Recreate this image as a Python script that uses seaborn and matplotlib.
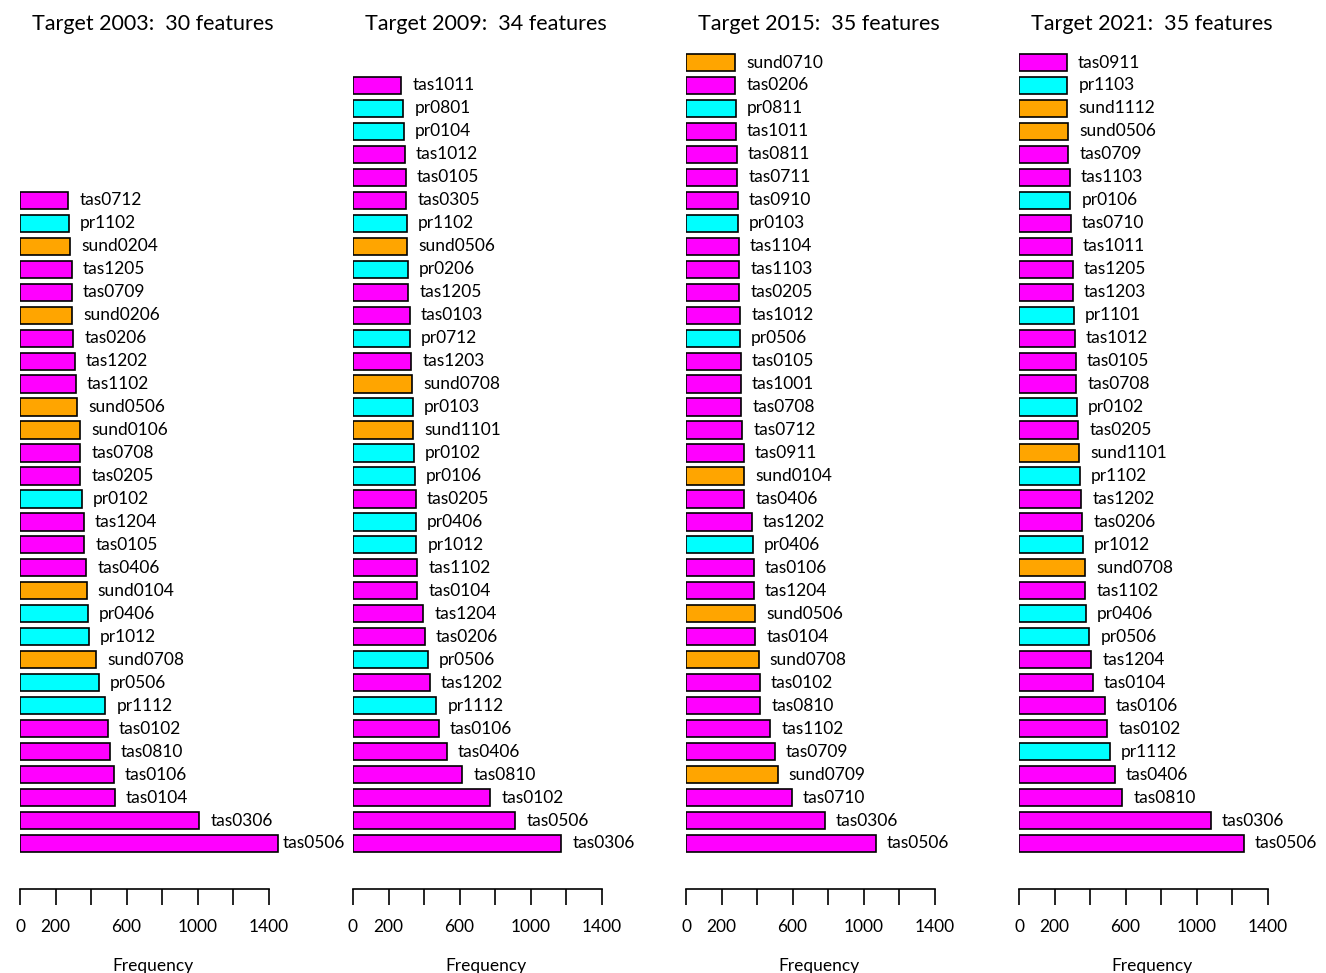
import numpy as np
import pandas as pd
import matplotlib
matplotlib.use('Agg')
import matplotlib.pyplot as plt
import seaborn as sns

# feature names, top to bottom as drawn, with their selection frequency
names_2003 = ['tas0712', 'pr1102', 'sund0204', 'tas1205', 'tas0709', 'sund0206', 'tas0206',
              'tas1202', 'tas1102', 'sund0506', 'sund0106', 'tas0708', 'tas0205', 'pr0102',
              'tas1204', 'tas0105', 'tas0406', 'sund0104', 'pr0406', 'pr1012', 'sund0708',
              'pr0506', 'pr1112', 'tas0102', 'tas0810', 'tas0106', 'tas0104', 'tas0306', 'tas0506']
freq_2003 = [272, 274, 283, 291, 291, 295, 300, 308, 313, 321, 340, 340, 340, 349,
             358, 362, 374, 375, 381, 387, 428, 443, 480, 494, 505, 529, 535, 1010, 1451]

names_2009 = ['tas1011', 'pr0801', 'pr0104', 'tas1012', 'tas0105', 'tas0305', 'pr1102',
              'sund0506', 'pr0206', 'tas1205', 'tas0103', 'pr0712', 'tas1203', 'sund0708',
              'pr0103', 'sund1101', 'pr0102', 'pr0106', 'tas0205', 'pr0406', 'pr1012',
              'tas1102', 'tas0104', 'tas1204', 'tas0206', 'pr0506', 'tas1202', 'pr1112',
              'tas0106', 'tas0406', 'tas0810', 'tas0102', 'tas0506', 'tas0306']
freq_2009 = [272, 283, 287, 293, 298, 300, 302, 306, 308, 311, 319, 321, 329, 332,
             336, 340, 342, 348, 352, 355, 357, 361, 361, 395, 405, 420, 433, 469,
             482, 529, 615, 773, 914, 1172]

names_2015 = ['sund0710', 'tas0206', 'pr0811', 'tas1011', 'tas0811', 'tas0711', 'tas0910',
              'pr0103', 'tas1104', 'tas1103', 'tas0205', 'tas1012', 'pr0506', 'tas0105',
              'tas1001', 'tas0708', 'tas0712', 'tas0911', 'sund0104', 'tas0406', 'tas1202',
              'pr0406', 'tas0106', 'tas1204', 'sund0506', 'tas0104', 'sund0708', 'tas0102',
              'tas0810', 'tas1102', 'tas0709', 'sund0709', 'tas0710', 'tas0306', 'tas0506']
freq_2015 = [275, 277, 279, 281, 286, 288, 290, 290, 296, 301, 301, 305, 305, 307,
             309, 311, 318, 325, 327, 329, 369, 378, 380, 380, 390, 391, 410, 414,
             419, 475, 501, 516, 594, 783, 1070]

names_2021 = ['tas0911', 'pr1103', 'sund1112', 'sund0506', 'tas0709', 'tas1103', 'pr0106',
              'tas0710', 'tas1011', 'tas1205', 'tas1203', 'pr1101', 'tas1012', 'tas0105',
              'tas0708', 'pr0102', 'tas0205', 'sund1101', 'pr1102', 'tas1202', 'tas0206',
              'pr1012', 'sund0708', 'tas1102', 'pr0406', 'pr0506', 'tas1204', 'tas0104',
              'tas0106', 'tas0102', 'pr1112', 'tas0406', 'tas0810', 'tas0306', 'tas0506']
freq_2021 = [270, 272, 272, 276, 278, 285, 289, 293, 298, 304, 304, 308, 313, 319,
             323, 325, 334, 338, 342, 351, 357, 358, 373, 373, 375, 396, 407, 415,
             482, 497, 510, 540, 582, 1079, 1265]

years = [2003, 2009, 2015, 2021]
n_features = [30, 34, 35, 35]
all_names = [names_2003, names_2009, names_2015, names_2021]
all_freq = [freq_2003, freq_2009, freq_2015, freq_2021]

colores = {'tas': '#FF00FF', 'pr': '#00FFFF', 'sund': '#FFA500'}

def var_type(name):
    return name.rstrip('0123456789')

sns.set_style('white')
plt.rcParams['font.family'] = ['Lato', 'DejaVu Sans']

fig = plt.figure(figsize=(13.26, 9.73), dpi=100)
W, H = 1326, 973
lefts = [20, 353, 686, 1019]
ax_top, ax_bot = 40, 889
px_per_unit = 248.7 / 1400
ax_w = 266

for k in range(4):
    names = all_names[k]
    freq = all_freq[k]
    n = len(names)
    df = pd.DataFrame({'name': names, 'freq': freq,
                       'pos': [n - 1 - i for i in range(n)],
                       'tipo': [var_type(s) for s in names]})

    ax = fig.add_axes([lefts[k] / W, (H - ax_bot) / H, ax_w / W, (ax_bot - ax_top) / H])
    sns.barplot(data=df, x='freq', y='pos', hue='tipo', palette=colores, orient='h',
                native_scale=True, dodge=False, width=0.75, legend=False, saturation=1,
                edgecolor='black', linewidth=1.2, ax=ax)

    xmax = ax_w / px_per_unit
    ax.set_xlim(0, xmax)
    ax.set_ylim(-(ax_bot - 843.5) / 22.97, 34 + (62.5 - ax_top) / 22.97)

    for _, r in df.iterrows():
        xt = min(r['freq'] + 62, 1480)
        ax.text(xt, r['pos'], r['name'], va='center', ha='left', fontsize=12.5,
                color='black', clip_on=False)

    for s in ['top', 'right', 'left']:
        ax.spines[s].set_visible(False)
    ax.spines['bottom'].set_bounds(0, 1400)
    ax.spines['bottom'].set_linewidth(1.2)
    ax.spines['bottom'].set_color('black')
    ax.set_xticks(range(0, 1401, 200))
    ax.set_xticklabels(['0', '200', '', '600', '', '1000', '', '1400'])
    ax.tick_params(axis='x', direction='out', length=11.5, width=1.2, pad=10,
                   labelsize=12.5, colors='black', bottom=True)
    ax.set_yticks([])
    ax.set_ylabel('')
    ax.set_xlabel('Frequency', fontsize=12.5, labelpad=17, color='black')
    ax.set_title(f'Target {years[k]}:  {n_features[k]} features', fontsize=15.5,
                 pad=7, color='black')

fig.savefig('out.png', dpi=100)
